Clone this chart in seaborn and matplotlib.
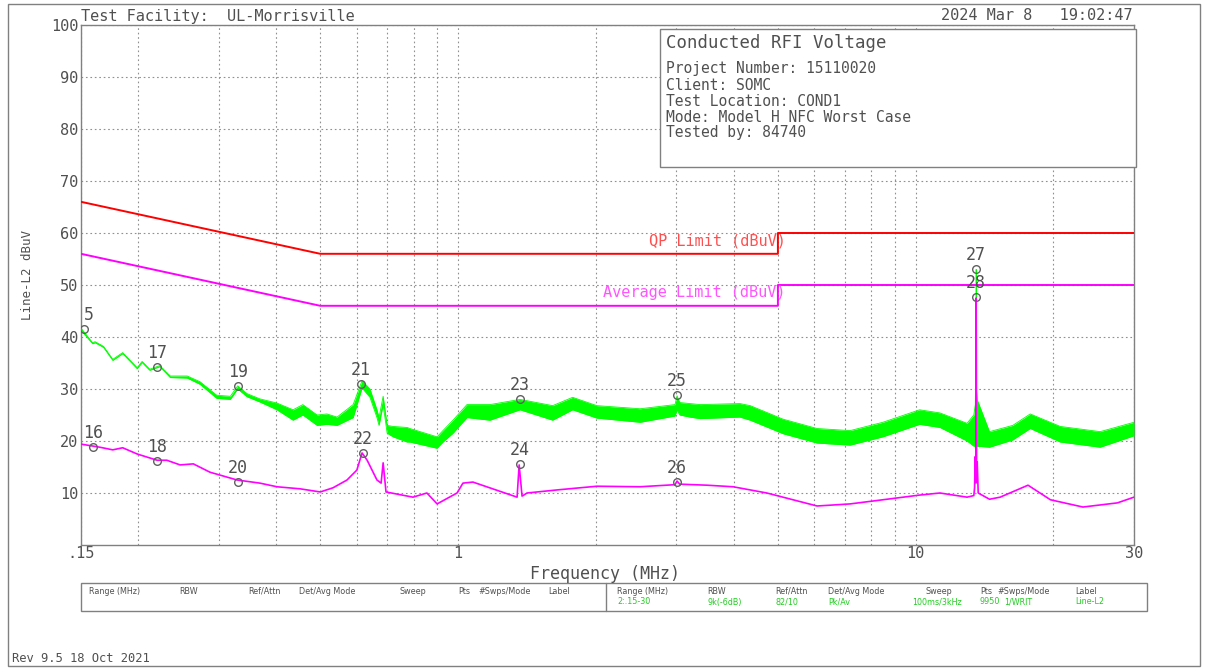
import numpy as np
import pandas as pd
import matplotlib
matplotlib.use("Agg")
import matplotlib.pyplot as plt
import seaborn as sns
from matplotlib.patches import Rectangle
from matplotlib.lines import Line2D
from matplotlib.ticker import FixedLocator, NullFormatter

# ---------------- data ----------------
qp_freq = [0.15, 0.5, 5.0, 5.0, 30.0]
qp_limit = [66, 56, 56, 60, 60]
av_lim_freq = [0.15, 0.5, 5.0, 5.0, 30.0]
av_limit = [56, 46, 46, 50, 50]

# Peak trace (green): lower / upper envelope of the sweep
pk_freq = [0.150, 0.159, 0.161, 0.168, 0.176, 0.185, 0.199, 0.204, 0.212, 0.223,
           0.235, 0.256, 0.273, 0.297, 0.318, 0.330, 0.346, 0.369, 0.402, 0.436,
           0.458, 0.492, 0.517, 0.544, 0.590, 0.617, 0.642, 0.665, 0.672, 0.686,
           0.700, 0.721, 0.774, 0.785, 0.900, 0.927, 0.975, 1.046, 1.174, 1.366,
           1.61, 1.78, 2.01, 2.50, 2.98, 3.01, 3.05, 3.21, 3.38, 4.13, 4.35, 5.13,
           6.09, 7.19, 8.48, 10.2, 11.3, 12.95, 13.40, 13.50, 13.53, 13.545, 13.56,
           13.575, 13.62, 14.5, 16.3, 17.8, 20.7, 25.3, 30.0]
pk_lo = [41.3, 38.7, 38.9, 38.0, 35.5, 36.8, 33.9, 35.1, 33.6, 34.3,
         32.2, 32.1, 30.9, 28.2, 28.0, 30.0, 28.5, 27.5, 26.0, 24.0,
         25.0, 23.0, 23.2, 23.0, 24.5, 30.2, 28.4, 24.5, 23.0, 27.0,
         21.5, 20.8, 19.8, 19.8, 18.6, 19.8, 21.5, 24.5, 24.0, 26.0,
         24.0, 26.0, 24.4, 23.6, 24.8, 26.0, 25.0, 24.6, 24.3, 24.6, 24.0, 21.4,
         19.6, 19.2, 20.8, 23.2, 22.6, 20.0, 19.0, 19.0, 20.0, 20.0, 21.0,
         19.0, 19.0, 18.8, 20.2, 22.4, 19.8, 18.8, 21.0]
pk_hi = [41.7, 38.9, 39.1, 38.2, 35.7, 37.0, 34.1, 35.3, 33.8, 34.5,
         32.5, 32.5, 31.4, 28.8, 28.6, 30.6, 29.1, 28.1, 27.3, 26.0,
         27.0, 25.0, 25.2, 24.6, 27.0, 31.6, 30.0, 26.0, 24.5, 28.6,
         23.0, 22.8, 22.6, 22.4, 20.8, 22.0, 24.0, 27.0, 27.0, 28.0,
         26.8, 28.4, 26.8, 26.2, 27.0, 28.7, 27.4, 27.2, 27.0, 27.2, 26.8, 24.2,
         22.4, 22.0, 23.6, 26.0, 25.4, 23.4, 25.0, 27.0, 36.0, 30.0, 53.0,
         30.0, 28.0, 21.8, 23.0, 25.2, 22.8, 21.8, 23.6]

# Average trace (magenta)
av_freq = [0.150, 0.165, 0.176, 0.185, 0.199, 0.220, 0.231, 0.247, 0.264, 0.287,
           0.329, 0.369, 0.402, 0.452, 0.500, 0.533, 0.572, 0.601, 0.617, 0.633,
           0.665, 0.679, 0.686, 0.696, 0.797, 0.855, 0.900, 0.995, 1.025, 1.078,
           1.346, 1.36, 1.38, 1.415, 1.65, 2.01, 2.50, 2.98, 3.01, 3.05, 3.50, 3.99,
           4.73, 6.09, 7.19, 8.48, 10.2, 11.3, 12.95, 13.40, 13.45, 13.50, 13.53,
           13.56, 13.59, 13.63, 13.70, 14.5, 15.3, 17.6, 19.7, 23.2, 27.6, 30.0]
av_level = [19.4, 18.8, 18.3, 18.7, 17.5, 16.3, 16.3, 15.4, 15.6, 14.0,
            12.5, 11.9, 11.2, 10.8, 10.2, 11.0, 12.5, 14.4, 17.7, 16.3,
            12.5, 11.9, 15.8, 10.2, 9.2, 10.0, 7.9, 10.0, 11.9, 12.1,
            9.2, 15.4, 9.4, 10.0, 10.6, 11.3, 11.2, 11.6, 12.3, 11.7, 11.5, 11.2,
            10.0, 7.5, 7.9, 8.7, 9.6, 10.0, 9.2, 9.5, 11.0, 17.0, 12.0,
            47.5, 12.0, 16.0, 10.0, 8.8, 9.2, 11.5, 8.7, 7.3, 8.1, 9.2]

# Markers
marker_ids = ["5", "16", "17", "18", "19", "20", "21", "22", "23", "24", "25", "26", "27", "28"]
marker_freq = [0.152, 0.159, 0.220, 0.220, 0.330, 0.330, 0.614, 0.620, 1.366, 1.366, 3.01, 3.01, 13.56, 13.56]
marker_db = [41.5, 18.8, 34.2, 16.2, 30.6, 12.2, 30.9, 17.7, 28.1, 15.6, 28.8, 12.1, 53.1, 47.7]

x_tick_vals = [0.15, 1, 10, 30]
x_tick_labels = [".15", "1", "10", "30"]
x_grid_minor = [0.2, 0.3, 0.4, 0.5, 0.6, 0.7, 0.8, 0.9, 2, 3, 4, 5, 6, 7, 8, 9, 20]
y_tick_vals = [10, 20, 30, 40, 50, 60, 70, 80, 90, 100]

info_title = "Conducted RFI Voltage"
info_lines = ["Project Number: 15110020", "Client: SOMC", "Test Location: COND1",
              "Mode: Model H NFC Worst Case", "Tested by: 84740"]
table_headers = ["Range (MHz)", "RBW", "Ref/Attn", "Det/Avg Mode", "Sweep", "Pts", "#Swps/Mode", "Label"]
table_values = ["2:.15-30", "9k(-6dB)", "82/10", "Pk/Av", "100ms/3kHz", "9950", "1/WRIT", "Line-L2"]

# ---------------- style ----------------
sns.set_style("white")
plt.rcParams['font.family'] = ['DejaVu Sans Mono']
TXT = "#505050"
FRAME = "#808080"
GREEN = "#00ff00"
MAG = "#ff00ff"

W, H = 1207, 669
fig = plt.figure(figsize=(W / 100, H / 100), dpi=100)

def fx(px):
    return px / W

def fy(py):
    return 1 - py / H

ax = fig.add_axes([fx(81), fy(545), (1134 - 81) / W, (545 - 25) / H])
ax.set_xscale('log')
ax.set_xlim(0.15, 30)
ax.set_ylim(0, 100)

# traces
ax.fill_between(pk_freq, pk_lo, pk_hi, color=GREEN, lw=0, zorder=3)
sns.lineplot(x=pk_freq, y=pk_hi, estimator=None, sort=False, color=GREEN, lw=0.6, ax=ax, zorder=3)
sns.lineplot(x=pk_freq, y=pk_lo, estimator=None, sort=False, color=GREEN, lw=0.6, ax=ax, zorder=3)
sns.lineplot(x=av_freq, y=av_level, estimator=None, sort=False, color=MAG, lw=1.2, ax=ax, zorder=4)

# limits
sns.lineplot(x=qp_freq, y=qp_limit, estimator=None, sort=False, color="#ff0000", lw=1.4, ax=ax, zorder=4)
sns.lineplot(x=av_lim_freq, y=av_limit, estimator=None, sort=False, color=MAG, lw=1.4, ax=ax, zorder=4)
ax.text(5.2, 58.4, "QP Limit (dBuV)", color="#ff5050", fontsize=11, ha="right", va="center", zorder=5)
ax.text(5.2, 48.6, "Average Limit (dBuV)", color="#ff55ff", fontsize=11, ha="right", va="center", zorder=5)

# markers
ax.plot(marker_freq, marker_db, ls="none", marker="o", ms=5.5, mfc="none", mec="#606060", mew=1.0, zorder=6)
for lab, f, v in zip(marker_ids, marker_freq, marker_db):
    ha = "left" if lab == "5" else "center"
    ax.annotate(lab, (f, v), xytext=(0, 3.5), textcoords="offset points", ha=ha, va="bottom",
                fontsize=12, color=TXT, zorder=6, annotation_clip=False)

# axes styling
ax.set_xticks(x_tick_vals)
ax.set_xticklabels(x_tick_labels)
ax.xaxis.set_minor_locator(FixedLocator(x_grid_minor))
ax.xaxis.set_minor_formatter(NullFormatter())
ax.set_yticks(y_tick_vals)
ax.set_yticklabels([str(v) for v in y_tick_vals])
ax.tick_params(axis="both", which="both", length=0, colors=TXT, labelsize=11)
ax.tick_params(axis="x", pad=1)
ax.tick_params(axis="y", pad=2)
ax.grid(True, which="both", color="#909090", ls=(0, (1.5, 2.5)), lw=0.8)
ax.set_axisbelow(True)
for sp in ax.spines.values():
    sp.set_color(FRAME)
    sp.set_linewidth(1.0)
ax.set_xlabel("")
ax.set_ylabel("")

# axis titles
fig.text(fx(605), fy(574), "Frequency (MHz)", fontsize=12, color=TXT, ha="center", va="center")
fig.text(fx(28), fy(275), "Line-L2 dBuV", fontsize=9, color=TXT, ha="center", va="center", rotation=90)

# header texts
fig.text(fx(81), fy(16), "Test Facility:  UL-Morrisville", fontsize=11, color=TXT, ha="left", va="center")
fig.text(fx(1133), fy(16), "2024 Mar 8   19:02:47", fontsize=11, color=TXT, ha="right", va="center")
fig.text(fx(12), fy(659), "Rev 9.5 18 Oct 2021", fontsize=8.7, color=TXT, ha="left", va="center")

# info box
fig.patches.append(Rectangle((fx(660), fy(167)), (1136 - 660) / W, (167 - 29) / H,
                             transform=fig.transFigure, facecolor="white", edgecolor=FRAME, lw=1.0, zorder=10))
fig.text(fx(666), fy(43), info_title, fontsize=12.5, color=TXT, ha="left", va="center", zorder=11)
for i, line in enumerate(info_lines):
    fig.text(fx(666), fy(69 + 16 * i), line, fontsize=10.5, color=TXT, ha="left", va="center", zorder=11)

# bottom table
fig.patches.append(Rectangle((fx(81), fy(611)), (1147 - 81) / W, (611 - 583) / H,
                             transform=fig.transFigure, facecolor="none", edgecolor=FRAME, lw=1.0))
fig.lines.append(Line2D([fx(606), fx(606)], [fy(583), fy(611)], transform=fig.transFigure, color=FRAME, lw=1.0))
left_cols = [89, 179, 248, 299, 399, 458, 478, 548]
right_cols = [617, 707, 775, 828, 926, 980, 997, 1075]
right_val_cols = [617, 707, 775, 828, 912, 980, 1004, 1075]
TFS = 5.8
for h, x in zip(table_headers, left_cols):
    fig.text(fx(x), fy(591), h, fontsize=TFS, family="DejaVu Sans", color=TXT, ha="left", va="center")
for h, x in zip(table_headers, right_cols):
    fig.text(fx(x), fy(591), h, fontsize=TFS, family="DejaVu Sans", color=TXT, ha="left", va="center")
for v, x in zip(table_values, right_val_cols):
    fig.text(fx(x), fy(602), v, fontsize=TFS, family="DejaVu Sans", color="#22cc22", ha="left", va="center")

# outer frame
fig.patches.append(Rectangle((fx(8), fy(666)), (1200 - 8) / W, (666 - 4) / H,
                             transform=fig.transFigure, facecolor="none", edgecolor=FRAME, lw=1.0))

fig.savefig("out.png", dpi=100)
